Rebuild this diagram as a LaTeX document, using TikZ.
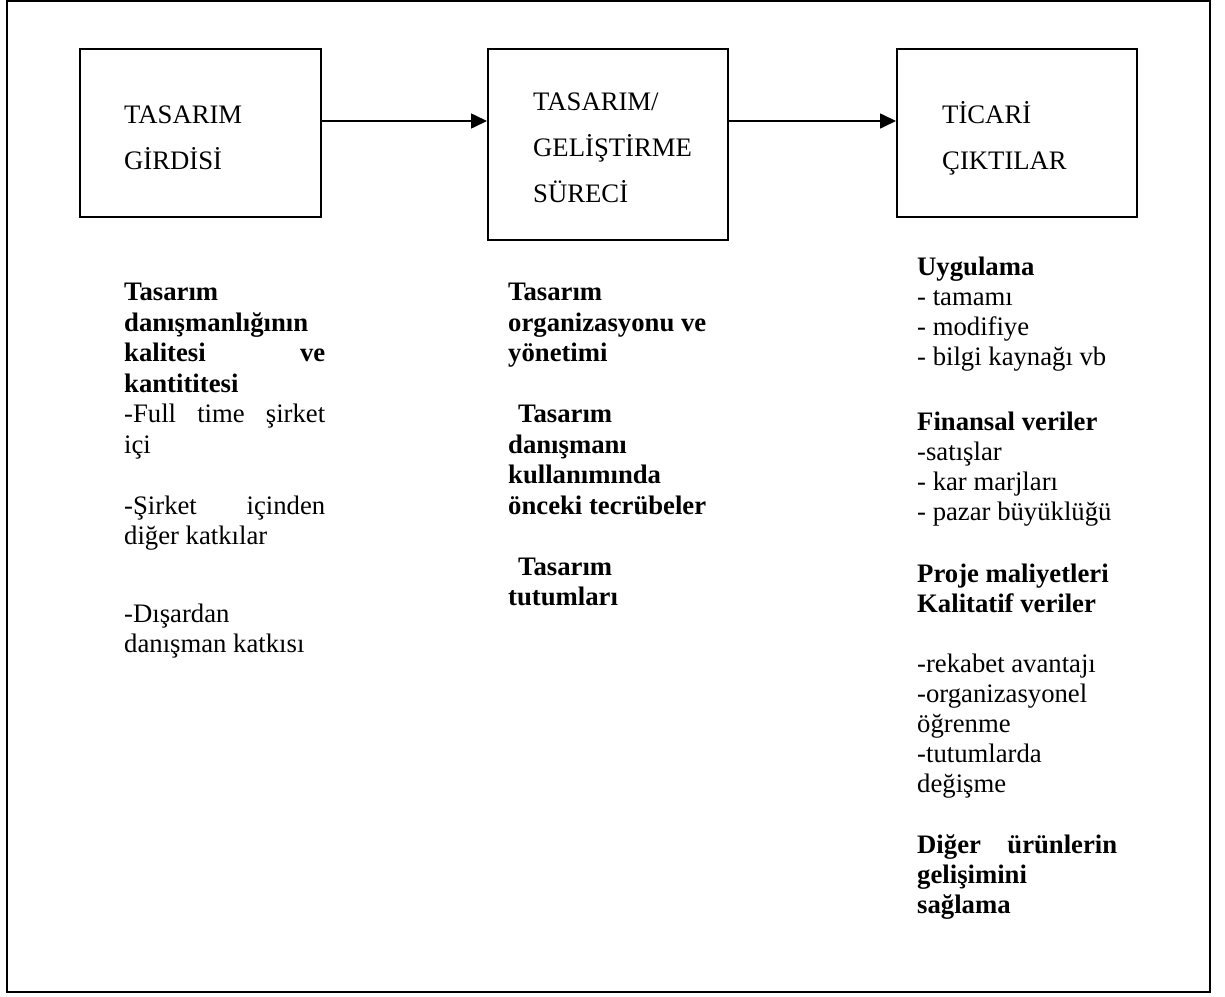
\documentclass[tikz,border=0pt]{standalone}
\usepackage{fontspec}
\setmainfont{Liberation Serif}
\usetikzlibrary{arrows.meta}
\begin{document}
\begin{tikzpicture}[x=1pt,y=-1pt,
  frame/.style={draw,line width=2pt},
  stage/.style={draw,line width=2pt,rectangle,inner sep=0pt},
  flow/.style={line width=1.6pt,-{Triangle[length=16pt,width=15pt]}},
  txt/.style={anchor=base west,inner sep=0pt,font=\fontsize{26.7}{30.5}\selectfont},
  btxt/.style={txt,font=\fontsize{26.7}{30.5}\selectfont\bfseries}]
\useasboundingbox (0,0) rectangle (1225,996);
\draw[frame] (7,1) rectangle (1210,992);

% the three stages
\node[stage,minimum width=241pt,minimum height=168pt] (b1) at (200.5,133) {};
\node[stage,minimum width=240pt,minimum height=191pt] (b2) at (608,144.5) {};
\node[stage,minimum width=240pt,minimum height=168pt] (b3) at (1017,133) {};
\coordinate (ay) at (0,121);
\draw[flow] (b1.east |- ay) -- (b2.west |- ay);
\draw[flow] (b2.east |- ay) -- (b3.west |- ay);

% stage titles
\node[txt] (t11) at (124,123) {TASARIM};
\node[txt] (t12) at (124,169) {GİRDİSİ};
\node[txt] (t21) at (533,110) {TASARIM/};
\node[txt] (t22) at (533,156) {GELİŞTİRME};
\node[txt] (t23) at (533,202) {SÜRECİ};
\node[txt] (t31) at (942,123) {TİCARİ};
\node[txt] (t32) at (942,169) {ÇIKTILAR};

% input column
\node[btxt] (c11) at (124,300) {Tasarım};
\node[btxt] (c12) at (124,331) {danışmanlığının};
\node[btxt] (c13) at (124,361) {\hbox to 201pt{kalitesi\hfill ve}};
\node[btxt] (c14) at (124,392) {kantititesi};
\node[txt] (c15) at (124,422) {\hbox to 201pt{-Full\hfill time\hfill şirket}};
\node[txt] (c16) at (124,453) {içi};
\node[txt] (c17) at (124,514) {\hbox to 201pt{-Şirket\hfill içinden}};
\node[txt] (c18) at (124,544) {diğer katkılar};
\node[txt] (c19) at (124,622) {-Dışardan};
\node[txt] (c110) at (124,652) {danışman katkısı};

% process column
\node[btxt] (c21) at (508,300) {Tasarım};
\node[btxt] (c22) at (508,331) {organizasyonu ve};
\node[btxt] (c23) at (508,361) {yönetimi};
\node[btxt] (c24) at (518,422) {Tasarım};
\node[btxt] (c25) at (508,453) {danışmanı};
\node[btxt] (c26) at (508,483) {kullanımında};
\node[btxt] (c27) at (508,514) {önceki tecrübeler};
\node[btxt] (c28) at (518,575) {Tasarım};
\node[btxt] (c29) at (508,605) {tutumları};

% output column
\node[btxt] (c31) at (917,275) {Uygulama};
\node[txt] (c32) at (917,305) {- tamamı};
\node[txt] (c33) at (917,335) {- modifiye};
\node[txt] (c34) at (917,365) {- bilgi kaynağı vb};
\node[btxt] (c35) at (917,430) {Finansal veriler};
\node[txt] (c36) at (917,460) {-satışlar};
\node[txt] (c37) at (917,490) {- kar marjları};
\node[txt] (c38) at (917,520) {- pazar büyüklüğü};
\node[btxt] (c39) at (917,582) {Proje maliyetleri};
\node[btxt] (c310) at (917,612) {Kalitatif veriler};
\node[txt] (c311) at (917,672) {-rekabet avantajı};
\node[txt] (c312) at (917,702) {-organizasyonel};
\node[txt] (c313) at (917,732) {öğrenme};
\node[txt] (c314) at (917,762) {-tutumlarda};
\node[txt] (c315) at (917,792) {değişme};
\node[btxt] (c316) at (917,853) {\hbox to 200pt{Diğer\hfill ürünlerin}};
\node[btxt] (c317) at (917,883) {gelişimini};
\node[btxt] (c318) at (917,913) {sağlama};
\end{tikzpicture}
\end{document}
